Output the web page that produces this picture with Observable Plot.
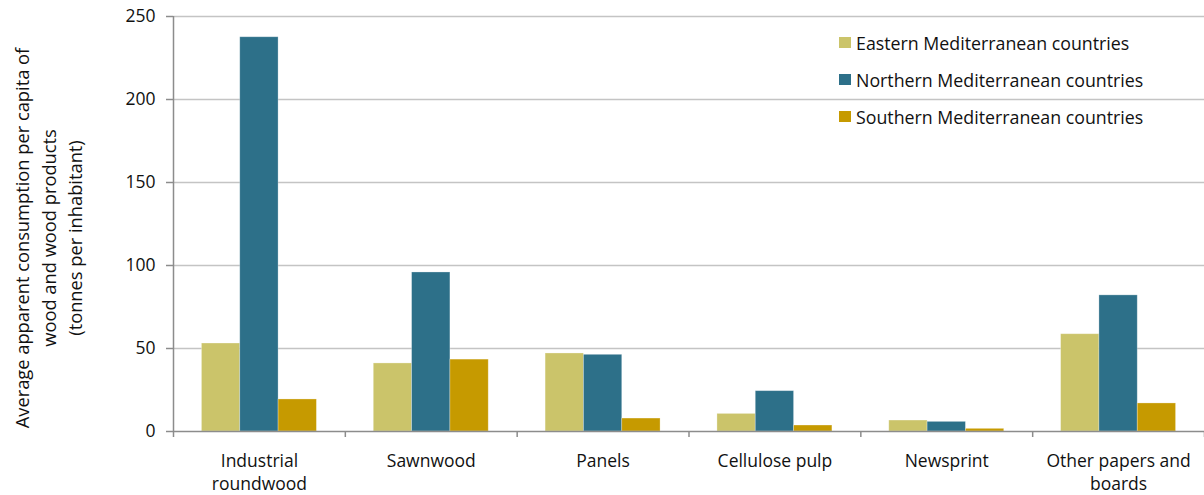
<!DOCTYPE html>
<html>
<head>
<meta charset="utf-8">
<script src="https://cdn.jsdelivr.net/npm/d3@7"></script>
<script src="https://cdn.jsdelivr.net/npm/@observablehq/plot@0.6"></script>
<style>
  body { margin: 0; background: #fff; font-family: "Open Sans", Lato, sans-serif; }
  #wrap { position: relative; width: 1204px; height: 495px; }
  #legend { position: absolute; left: 839px; top: 24px; font-size: 17.8px; color: #111; }
  #legend .row { display: flex; align-items: center; height: 37px; }
  #legend .sw { width: 12px; height: 11px; margin-right: 5px; }
  #ylabel { position: absolute; left: 49px; top: 238px; width: 470px; transform: translate(-50%, -50%) rotate(-90deg);
            text-align: center; font-size: 18.3px; line-height: 26.5px; color: #111; }
</style>
</head>
<body>
<div id="wrap">
  <div id="chart"></div>
  <div id="ylabel">Average apparent consumption per capita of<br>wood and wood products<br>(tonnes per inhabitant)</div>
  <div id="legend"></div>
</div>
<script>
const categories = ["Industrial\nroundwood", "Sawnwood", "Panels", "Cellulose pulp", "Newsprint", "Other papers and\nboards"];
const seriesNames = ["Eastern Mediterranean countries", "Northern Mediterranean countries", "Southern Mediterranean countries"];
const seriesColors = ["#cbc46a", "#2d7089", "#c69a00"];
const eastern  = [53, 41, 47, 10.6, 6.6, 58.6];
const northern = [237.5, 95.8, 46.2, 24.3, 5.8, 82];
const southern = [19.3, 43.3, 7.8, 3.6, 1.6, 16.9];
const yTicks = [0, 50, 100, 150, 200, 250];

const seriesValues = [eastern, northern, southern];
const barWidth = 0.223;
const rows = [];
seriesValues.forEach((vals, k) => {
  vals.forEach((v, i) => {
    const x1 = i + 0.5 + (k - 1.5) * barWidth;
    rows.push({cat: categories[i], series: seriesNames[k], x1, x2: x1 + barWidth, value: v});
  });
});
const boundaries = d3.range(categories.length + 1);
const centers = categories.map((c, i) => i + 0.5);

const chart = Plot.plot({
  width: 1204,
  height: 495,
  marginLeft: 173,
  marginRight: 0,
  marginTop: 16,
  marginBottom: 64,
  style: {fontFamily: "'Open Sans', Lato, sans-serif", fontSize: "17.5px", color: "#111", background: "#fff"},
  x: {domain: [0, categories.length]},
  y: {domain: [0, 250]},
  color: {domain: seriesNames, range: seriesColors},
  marks: [
    Plot.gridY(yTicks.filter(d => d > 0), {stroke: "#c4c4c4", strokeOpacity: 1, strokeWidth: 1.5}),
    Plot.rectY(rows, {x1: "x1", x2: "x2", y: "value", fill: "series", stroke: "#fff", strokeOpacity: 0.35, strokeWidth: 0.8}),
    Plot.ruleX([0], {y1: 0, y2: 250, stroke: "#8c8c8c", strokeWidth: 1.5}),
    Plot.ruleY([0], {stroke: "#8c8c8c", strokeWidth: 1.5}),
    Plot.axisY({ticks: yTicks, tickSize: 7, tickPadding: 11, stroke: "#8c8c8c", strokeWidth: 1.5, label: null, fontSize: 17.5}),
    Plot.axisX({ticks: boundaries, tickSize: 6, tickFormat: () => "", stroke: "#8c8c8c", strokeWidth: 1.5, label: null}),
    Plot.axisX({ticks: centers, tickSize: 0, tickPadding: 18, tickFormat: (d) => categories[Math.round(d - 0.5)], lineHeight: 1.37, fontSize: 17.5, label: null})
  ]
});
document.getElementById("chart").appendChild(chart);

const legend = d3.select("#legend");
seriesNames.forEach((name, k) => {
  const row = legend.append("div").attr("class", "row");
  row.append("div").attr("class", "sw").style("background", seriesColors[k]);
  row.append("span").text(name);
});
</script>
</body>
</html>
